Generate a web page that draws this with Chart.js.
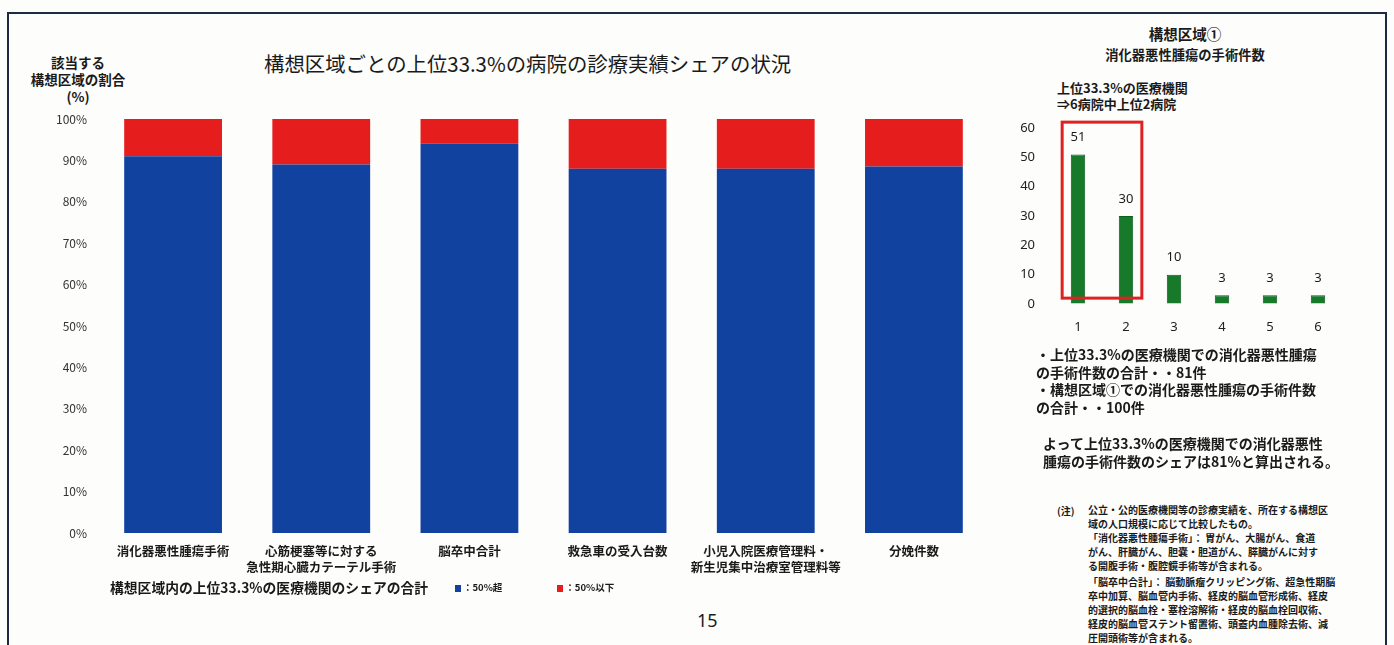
<!DOCTYPE html>
<html lang="ja">
<head>
<meta charset="utf-8">
<title>構想区域ごとの上位33.3%の病院の診療実績シェアの状況</title>
<script src="https://cdn.jsdelivr.net/npm/chart.js@4.4.1/dist/chart.umd.min.js"></script>
<style>
  html, body { margin: 0; padding: 0; background: #fdfdfb; }
  body { width: 1394px; height: 645px; position: relative; overflow: hidden;
         font-family: "Noto Sans CJK JP", "Noto Sans", sans-serif; color: #1a1a1a; }
  .frame { position: absolute; left: 7px; top: 12px; width: 1380px; height: 700px;
           border: 2.5px solid #1d2a44; box-sizing: border-box; }
  .txt { position: absolute; white-space: nowrap; }
  canvas { position: absolute; }
  #shareChart { left: 0; top: 0; }
  #countChart { left: 1000px; top: 110px; }
  .sq { display: inline-block; width: 6px; height: 7px; margin-right: 2px; vertical-align: -1px; }
</style>
</head>
<body>
<div class="frame"></div>

<!-- 左：構想区域ごとのシェア -->
<div class="txt" style="left:30px; top:54px; width:96px; text-align:center; font-size:13.5px; font-weight:bold; line-height:17px;">該当する<br>構想区域の割合<br>(%)</div>
<div class="txt" style="left:264px; top:48px; font-size:20.4px;">構想区域ごとの上位33.3%の病院の診療実績シェアの状況</div>
<canvas id="shareChart" width="1000" height="600"></canvas>
<div class="txt" style="left:110px; top:577px; font-size:13.8px; font-weight:bold;">構想区域内の上位33.3%の医療機関のシェアの合計</div>
<div class="txt" id="shareLegend" style="left:455px; top:580px; font-size:9.5px; font-weight:bold;"></div>

<div class="txt" style="left:697px; top:608px; font-size:18px; font-family:'Noto Sans', sans-serif;">15</div>

<!-- 右：構想区域①の手術件数 -->
<div class="txt" style="left:1085px; top:23px; width:200px; text-align:center; font-size:14.5px; font-weight:bold;">構想区域①</div>
<div class="txt" style="left:1085px; top:45px; width:200px; text-align:center; font-size:13.3px; font-weight:bold;">消化器悪性腫瘍の手術件数</div>
<div class="txt" style="left:1057px; top:80px; font-size:13px; font-weight:bold; line-height:16px;">上位33.3%の医療機関<br>⇒6病院中上位2病院</div>
<canvas id="countChart" width="390" height="240"></canvas>

<div class="txt" style="left:1036px; top:346px; font-size:14px; font-weight:bold; line-height:17.7px;">・上位33.3%の医療機関での消化器悪性腫瘍<br>の手術件数の合計・・81件<br>・構想区域①での消化器悪性腫瘍の手術件数<br>の合計・・100件</div>
<div class="txt" style="left:1043px; top:434px; font-size:14px; font-weight:bold; line-height:18px;">よって上位33.3%の医療機関での消化器悪性<br>腫瘍の手術件数のシェアは81%と算出される。</div>

<div class="txt" style="left:1057px; top:503px; font-size:10px; font-weight:bold;">(注)</div>
<div class="txt" style="left:1088px; top:503px; font-size:10px; font-weight:bold; line-height:13.5px;">公立・公的医療機関等の診療実績を、所在する構想区<br>域の人口規模に応じて比較したもの。</div>
<div class="txt" style="left:1088px; top:531px; font-size:10px; font-weight:bold; line-height:14px;">「消化器悪性腫瘍手術」： 胃がん、大腸がん、食道<br>がん、肝臓がん、胆嚢・胆道がん、膵臓がんに対す<br>る開腹手術・腹腔鏡手術等が含まれる。</div>
<div class="txt" style="left:1088px; top:575px; font-size:10px; font-weight:bold; line-height:14px;">「脳卒中合計」： 脳動脈瘤クリッピング術、超急性期脳<br>卒中加算、脳血管内手術、経皮的脳血管形成術、経皮<br>的選択的脳血栓・塞栓溶解術・経皮的脳血栓回収術、<br>経皮的脳血管ステント留置術、頭蓋内血腫除去術、減<br>圧開頭術等が含まれる。</div>

<script>
// 診療実績の項目（2行ラベルは配列で改行）
const categories = [
    ['消化器悪性腫瘍手術'],
    ['心筋梗塞等に対する', '急性期心臓カテーテル手術'],
    ['脳卒中合計'],
    ['救急車の受入台数'],
    ['小児入院医療管理料・', '新生児集中治療室管理料等'],
    ['分娩件数']
];
const seriesLabels = ['：50%超', '：50%以下'];
const seriesColors = ['#1142a0', '#e51d1d'];
const shareOver50 = [91, 89, 94, 88, 88, 88.5];
const shareUnder50 = [9, 11, 6, 12, 12, 11.5];

// 構想区域① 病院別の手術件数
const hospitalRanks = ['1', '2', '3', '4', '5', '6'];
const surgeryCounts = [51, 30, 10, 3, 3, 3];
const topHospitals = 2;

const jpFont = '"Noto Sans CJK JP", "Noto Sans", sans-serif';

// 凡例（小さい四角＋ラベル）
const legendBox = document.getElementById('shareLegend');
seriesLabels.forEach(function (label, i) {
    const item = document.createElement('span');
    item.style.marginRight = i === 0 ? '55px' : '0';
    item.innerHTML = '<span class="sq" style="background:' + seriesColors[i] + '"></span>' + label;
    legendBox.appendChild(item);
});

new Chart(document.getElementById('shareChart'), {
    type: 'bar',
    data: {
        labels: categories,
        datasets: [
            { label: seriesLabels[0], data: shareOver50, backgroundColor: seriesColors[0] },
            { label: seriesLabels[1], data: shareUnder50, backgroundColor: seriesColors[1] }
        ]
    },
    options: {
        responsive: false,
        animation: false,
        layout: { padding: { top: 119, right: 12, left: 0, bottom: 0 } },
        datasets: { bar: { barPercentage: 0.66, categoryPercentage: 1 } },
        plugins: { legend: { display: false }, tooltip: { enabled: false } },
        scales: {
            x: {
                stacked: true,
                grid: { display: false },
                border: { display: false },
                ticks: {
                    autoSkip: false, maxRotation: 0, padding: 2, color: '#1a1a1a',
                    font: { family: jpFont, size: 12.5, weight: 'bold', lineHeight: 1.3 }
                },
                afterFit: function (scale) { scale.height = 67; }
            },
            y: {
                stacked: true,
                min: 0, max: 100,
                grid: { display: false, drawTicks: false },
                border: { display: false },
                ticks: {
                    stepSize: 10, padding: 12, color: '#333',
                    font: { family: jpFont, size: 12 },
                    callback: function (v) { return v + '%'; }
                },
                afterFit: function (scale) { scale.width = 99; }
            }
        }
    }
});

// 棒の上に件数を表示
const valueLabels = {
    id: 'valueLabels',
    afterDatasetsDraw: function (chart) {
        const ctx = chart.ctx;
        const meta = chart.getDatasetMeta(0);
        ctx.save();
        ctx.fillStyle = '#1a1a1a';
        ctx.font = '13px "Noto Sans", sans-serif';
        ctx.textAlign = 'center';
        ctx.textBaseline = 'middle';
        meta.data.forEach(function (bar, i) {
            ctx.fillText(String(chart.data.datasets[0].data[i]), bar.x, bar.y - 17);
        });
        ctx.restore();
    }
};

// 上位病院を赤枠で囲む
const topBox = {
    id: 'topBox',
    afterDatasetsDraw: function (chart) {
        const xs = chart.scales.x, ys = chart.scales.y;
        const step = xs.width / chart.data.labels.length;
        const left = xs.getPixelForValue(0) - step * 0.33;
        const right = xs.getPixelForValue(topHospitals - 1) + step * 0.33;
        const top = ys.getPixelForValue(62);
        const bottom = ys.getPixelForValue(2);
        const ctx = chart.ctx;
        ctx.save();
        ctx.strokeStyle = '#dd2222';
        ctx.lineWidth = 3;
        ctx.strokeRect(left, top, right - left, bottom - top);
        ctx.restore();
    }
};

new Chart(document.getElementById('countChart'), {
    type: 'bar',
    data: {
        labels: hospitalRanks,
        datasets: [{ data: surgeryCounts, backgroundColor: '#17792a', borderColor: '#0f5e1e', borderWidth: 1 }]
    },
    options: {
        responsive: false,
        animation: false,
        layout: { padding: { top: 18, right: 48, left: 0, bottom: 0 } },
        datasets: { bar: { barPercentage: 0.3, categoryPercentage: 1 } },
        plugins: { legend: { display: false }, tooltip: { enabled: false } },
        scales: {
            x: {
                grid: { display: false },
                border: { display: false },
                ticks: { padding: 7, color: '#222', font: { family: '"Noto Sans", sans-serif', size: 13 } },
                afterFit: function (scale) { scale.height = 46; }
            },
            y: {
                min: 0, max: 60,
                // 目盛り線は透明にして、ラベルと棒の間隔だけ確保する
                grid: { display: true, drawOnChartArea: false, drawTicks: true, tickLength: 15, color: 'transparent' },
                border: { display: false },
                ticks: { stepSize: 10, padding: 4, color: '#222', font: { family: '"Noto Sans", sans-serif', size: 13 } },
                afterFit: function (scale) { scale.width = 54; }
            }
        }
    },
    plugins: [valueLabels, topBox]
});
</script>
</body>
</html>
